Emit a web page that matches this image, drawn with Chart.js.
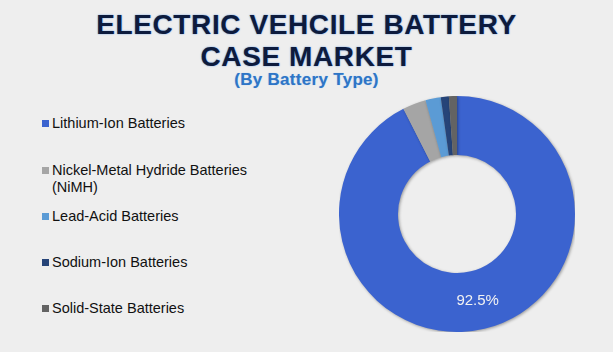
<!DOCTYPE html>
<html>
<head>
<meta charset="utf-8">
<script src="https://cdn.jsdelivr.net/npm/chart.js@4/dist/chart.umd.min.js"></script>
<style>
  html, body { margin: 0; padding: 0; }
  body {
    width: 613px; height: 352px; position: relative; overflow: hidden;
    background: #eeeeee;
    font-family: "Liberation Sans", Arial, sans-serif;
  }
  .title {
    position: absolute; left: 0; width: 613px; text-align: center;
    font-weight: bold; color: #0d1b3d; font-size: 28px; line-height: 32px;
    letter-spacing: 0.6px;
    text-shadow: 0 0 2px #8fb4e8, 0 0 1px #8fb4e8;
  }
  .sub {
    position: absolute; left: 0; width: 613px; top: 70px; text-align: center;
    font-weight: bold; color: #2e75c6; font-size: 17px; line-height: 20px;
    letter-spacing: 0.3px;
    text-shadow: 0 0 1px #9cc3f0;
  }
  #legend { position: absolute; left: 40px; top: 0; }
  .item { position: absolute; left: 0; white-space: nowrap; font-size: 14.5px; line-height: 17px; color: #111; }
  .sw { position: absolute; left: 2px; top: 5px; width: 7px; height: 7px; }
  .txt { position: absolute; left: 12px; top: 0; }
  #wrap { position: absolute; left: 339px; top: 96px; width: 236px; height: 236px; }
</style>
</head>
<body>
<div class="title" style="top:9px">ELECTRIC VEHCILE BATTERY</div>
<div class="title" style="top:41px">CASE MARKET</div>
<div class="sub">(By Battery Type)</div>
<div id="legend"></div>
<div id="wrap"><canvas id="c"></canvas></div>
<script>
const categories = [
  'Lithium-Ion Batteries',
  'Nickel-Metal Hydride Batteries (NiMH)',
  'Lead-Acid Batteries',
  'Sodium-Ion Batteries',
  'Solid-State Batteries'
];
const shares = [92.5, 3.2, 2.1, 1.1, 1.1];
const colors = ['#3b63cf', '#a5a5a5', '#5b9bd5', '#264478', '#636363'];
const legendLines = [
  ['Lithium-Ion Batteries'],
  ['Nickel-Metal Hydride Batteries', '(NiMH)'],
  ['Lead-Acid Batteries'],
  ['Sodium-Ion Batteries'],
  ['Solid-State Batteries']
];
const legendTops = [115, 162, 208, 254, 300];

// legend built from the chart's categories
const legend = document.getElementById('legend');
categories.forEach((name, i) => {
  const item = document.createElement('div');
  item.className = 'item';
  item.style.top = legendTops[i] + 'px';
  item.innerHTML = '<span class="sw" style="background:' + colors[i] + '"></span>' +
    '<span class="txt">' + legendLines[i].join('<br>') + '</span>';
  legend.appendChild(item);
});

// value label on big slices
const sliceLabels = {
  id: 'sliceLabels',
  afterDatasetsDraw(chart) {
    const ctx = chart.ctx;
    const meta = chart.getDatasetMeta(0);
    ctx.save();
    ctx.font = '15px "Liberation Sans", Arial, sans-serif';
    ctx.fillStyle = '#f2f2f2';
    ctx.textAlign = 'center';
    ctx.textBaseline = 'middle';
    meta.data.forEach((arc, i) => {
      if (shares[i] < 10) return;
      const p = arc.tooltipPosition();
      ctx.fillText(shares[i].toFixed(1) + '%', p.x, p.y + 1);
    });
    ctx.restore();
  }
};

const shadow = {
  id: 'shadow',
  beforeDatasetsDraw(chart) {
    chart.ctx.save();
    chart.ctx.shadowColor = 'rgba(0,0,0,0.35)';
    chart.ctx.shadowBlur = 3;
    chart.ctx.shadowOffsetX = 1;
    chart.ctx.shadowOffsetY = 1;
  },
  afterDatasetsDraw(chart) {
    chart.ctx.restore();
  }
};

new Chart(document.getElementById('c'), {
  type: 'doughnut',
  data: {
    labels: categories,
    datasets: [{
      data: shares,
      backgroundColor: colors,
      borderWidth: 0
    }]
  },
  options: {
    responsive: true,
    maintainAspectRatio: false,
    animation: false,
    cutout: '50%',
    layout: { padding: 0 },
    plugins: {
      legend: { display: false },
      tooltip: { enabled: false }
    }
  },
  plugins: [shadow, sliceLabels]
});
</script>
</body>
</html>
